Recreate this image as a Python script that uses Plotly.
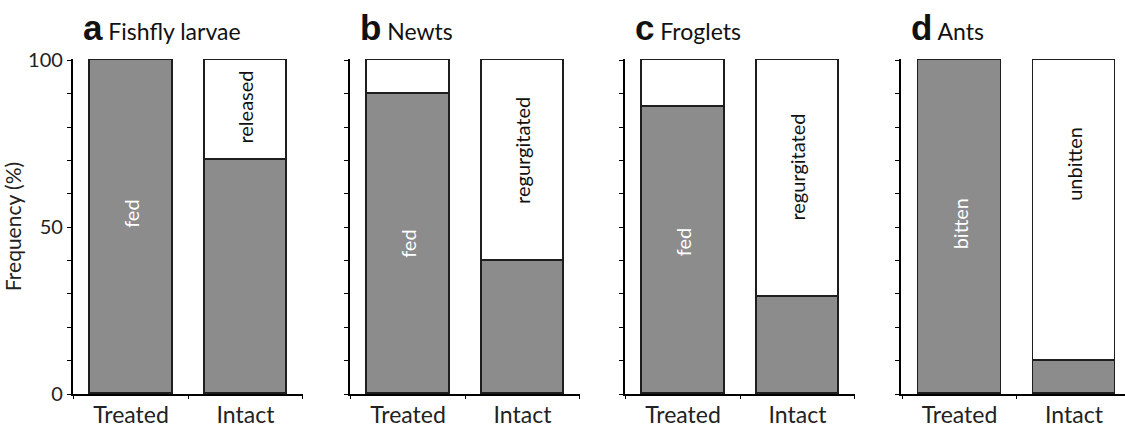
import plotly.graph_objects as go

# ---- data ----
panel_letters = ["a", "b", "c", "d"]
panel_titles = ["Fishfly larvae", "Newts", "Froglets", "Ants"]
categories = ["Treated", "Intact"]
# lower (grey) segment per panel: [Treated, Intact]
lower_vals = [[100, 70], [90, 40], [86, 29], [100, 10]]
lower_names = ["fed", "fed", "fed", "bitten"]
upper_names = ["released", "regurgitated", "regurgitated", "unbitten"]
# label placements (value-axis positions)
lower_label_y = [54, 45, 45.5, 51]
upper_label_y = [86, 73, 68, 69]
y_ticks = [0, 50, 100]

W, H = 1125, 427
GREY = "#8c8c8c"
EDGE = "#1e1e1e"
FONT = "Lato"

# geometry (pixels)
px_per_cat = 114.5
treated_centers = [131, 408, 683, 959.5]
left_off = 0.51

fig = go.Figure()
for i in range(4):
    xa = "x" if i == 0 else f"x{i+1}"
    ya = "y" if i == 0 else f"y{i+1}"
    lo = lower_vals[i]
    up = [100 - v for v in lo]
    xs = [0, 1]
    fig.add_trace(go.Bar(x=xs, y=lo, xaxis=xa, yaxis=ya, width=0.72,
                         marker=dict(color=GREY, line=dict(color=EDGE, width=1.6)),
                         showlegend=False, hoverinfo="skip"))
    fig.add_trace(go.Bar(x=xs, y=up, xaxis=xa, yaxis=ya, width=0.72,
                         marker=dict(color="white", line=dict(color=EDGE, width=1.6)),
                         showlegend=False, hoverinfo="skip"))
    c = treated_centers[i]
    x0 = c - left_off * px_per_cat
    x1 = c + 1.5 * px_per_cat
    r1 = 1.5
    if x1 > W:
        r1 = (W - c) / px_per_cat
        x1 = W
    dom = [x0 / W, x1 / W]
    xkey = "xaxis" if i == 0 else f"xaxis{i+1}"
    ykey = "yaxis" if i == 0 else f"yaxis{i+1}"
    fig.layout[xkey] = dict(domain=dom, range=[-left_off, r1], anchor=ya,
                            showline=True, linecolor="black", linewidth=1.5,
                            tickvals=[0, 1], ticktext=categories, ticks="",
                            ticklabelstandoff=0, automargin=False,
                            tickfont=dict(family=FONT, size=23, color="#222"),
                            showgrid=False, zeroline=False, fixedrange=True,
                            minor=dict(tick0=0.5, dtick=1, ticks="outside",
                                       ticklen=3, tickcolor="black", showgrid=False))
    fig.layout[ykey] = dict(domain=[0, 1], range=[0, 100.4], anchor=xa,
                            showline=True, linecolor="black", linewidth=1.5,
                            tickvals=y_ticks, ticks="outside", ticklen=4,
                            tickcolor="black", showticklabels=(i == 0),
                            automargin=False,
                            tickfont=dict(family=FONT, size=20, color="#222"),
                            showgrid=False, zeroline=False, fixedrange=True,
                            minor=dict(dtick=10, ticks="outside", ticklen=4,
                                       tickcolor="black", showgrid=False),
                            title=dict(text="Frequency (%)" if i == 0 else "",
                                       font=dict(family=FONT, size=21, color="#222"),
                                       standoff=6))
    # in-bar labels
    fig.add_annotation(x=0, y=lower_label_y[i], xref=xa, yref=ya,
                       text=lower_names[i], textangle=-90, showarrow=False,
                       font=dict(family=FONT, size=20, color="white"))
    fig.add_annotation(x=1, y=upper_label_y[i], xref=xa, yref=ya,
                       text=upper_names[i], textangle=-90, showarrow=False,
                       font=dict(family=FONT, size=20, color="#111"))
    # panel titles
    fig.add_annotation(x=(x0 + 8) / W, y=1.0, xref="paper", yref="paper",
                       xanchor="left", yanchor="bottom", yshift=10,
                       text=f"<b><span style='font-family:Liberation Sans;font-size:35px'>{panel_letters[i]}</span></b>"
                            f"<span style='font-size:23px'> {panel_titles[i]}</span>",
                       showarrow=False, font=dict(family=FONT, size=23, color="#111"))

fig.update_layout(width=W, height=H, barmode="stack", bargap=0,
                  margin=dict(l=0, r=0, t=59, b=33),
                  plot_bgcolor="white", paper_bgcolor="white")
fig.write_html("out.html", config={"displayModeBar": False},
               post_script="document.body.style.margin='0';")
